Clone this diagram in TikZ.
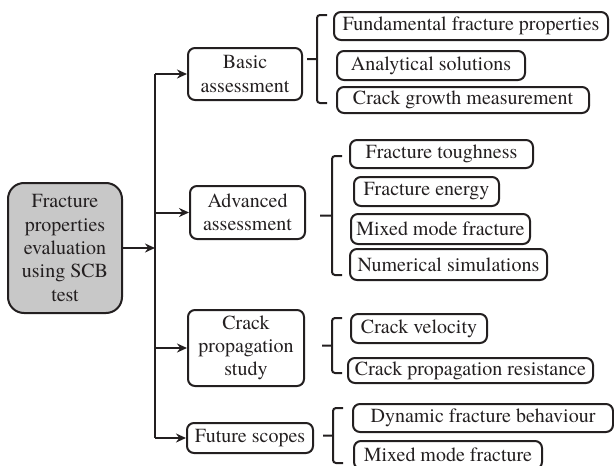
\documentclass[tikz,border=0pt]{standalone}
\usepackage{fontspec}
\setmainfont{TeX Gyre Termes}
\usepackage{tikz}
\usetikzlibrary{
  positioning,
  arrows.meta,
  calc
}
\definecolor{inkgray}{HTML}{231F20}
\definecolor{rootfill}{HTML}{C8C8C8}

\begin{document}
\begin{tikzpicture}[x=1pt,y=-1pt,>={Stealth[length=10pt,width=9pt]},
    every node/.style={font=\fontsize{20}{23.3}\selectfont,text=inkgray},
    box/.style={draw=inkgray,line width=2pt,rounded corners=7pt,inner sep=0pt,align=center},
    brace/.style={draw=inkgray,line width=2pt,rounded corners=3pt},
    link/.style={draw=inkgray,line width=2pt}]
    \useasboundingbox (0,0) rectangle (614,466);

    % main node
    \node[box,fill=rootfill,rounded corners=16pt,minimum width=114pt,minimum height=130pt] (root) at (65,248)
        {Fracture\\properties\\evaluation\\using SCB\\test};
    \coordinate (trunk) at (155,0);

    % second level
    \node[box,minimum width=114pt,minimum height=52pt] (basic) at (245,74) {Basic\\assessment};
    \node[box,minimum width=115pt,minimum height=53pt] (adv) at (247.5,212.5) {Advanced\\assessment};
    \node[box,minimum width=116pt,minimum height=76pt] (crack) at (246,348) {Crack\\propagation\\study};
    \node[box,minimum width=126pt,minimum height=30pt] (future) at (250,438) {Future scopes};

    % third level
    \node[box,minimum width=274pt,minimum height=28pt] (fund) at (471,26) {Fundamental fracture properties};
    \node[box,minimum width=188pt,minimum height=29pt] (anal) at (431,65.5) {Analytical solutions};
    \node[box,minimum width=252pt,minimum height=26pt] (growth) at (463,100) {Crack growth measurement};

    \node[box,minimum width=183pt,minimum height=28pt] (tough) at (441.5,154) {Fracture toughness};
    \node[box,minimum width=145pt,minimum height=29pt] (energy) at (426.5,191.5) {Fracture energy};
    \node[box,minimum width=179pt,minimum height=30pt] (mixA) at (440.5,229) {Mixed mode fracture};
    \node[box,minimum width=197pt,minimum height=31pt] (numer) at (448.5,264.5) {Numerical simulations};

    \node[box,minimum width=136pt,minimum height=29pt] (veloc) at (419,328.5) {Crack velocity};
    \node[box,minimum width=245pt,minimum height=25pt] (resist) at (470.5,370.5) {Crack propagation resistance};

    \node[box,minimum width=260pt,minimum height=28pt] (dyn) at (483,418) {Dynamic fracture behaviour};
    \node[box,minimum width=188pt,minimum height=28pt] (mixB) at (448,455) {Mixed mode fracture};

    % arrows
    \draw[link,->] (root.east) -- (root.east -| trunk);
    \draw[link] (basic.west -| trunk) -- (future.west -| trunk);
    \foreach \n in {basic,adv,crack,future}
        \draw[link,->] (\n.west -| trunk) -- (\n.west);

    % braces
    \foreach \bx/\ya/\yb/\sx in {317/15/103/307, 332/156/275/320, 332/318/373/322, 333/408/463/323}
        \draw[brace] (\bx+10,\ya) -- (\bx,\ya) -- (\bx,\yb) -- (\bx+10,\yb)
            (\sx,{(\ya+\yb)/2}) -- (\bx,{(\ya+\yb)/2});
\end{tikzpicture}
\end{document}
